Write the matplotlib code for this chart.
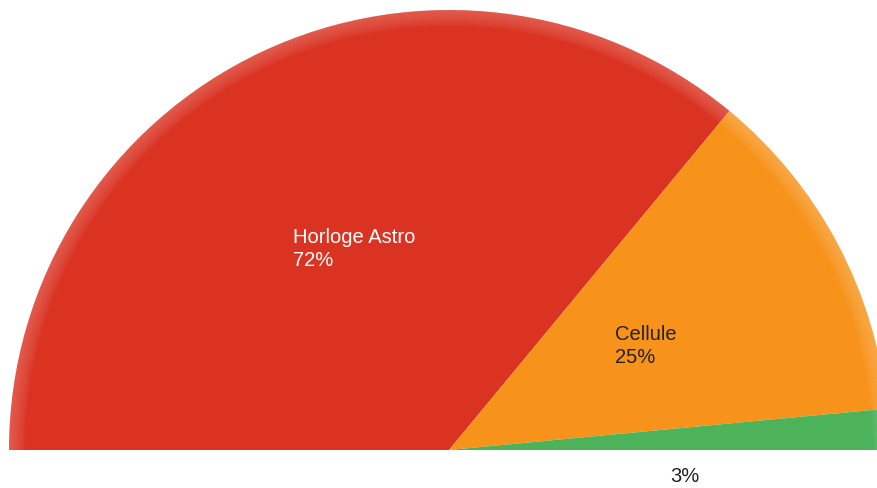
import numpy as np
import matplotlib.pyplot as plt
from matplotlib.patches import Wedge

plt.rcParams['font.family'] = ['Liberation Sans', 'DejaVu Sans']

labels = ["Horloge Astro", "Cellule", ""]
values = [72, 25, 3]
pct_text = ["72%", "25%", "3%"]
colors = ["#DA3322", "#F7931A", "#4DB35B"]
text_colors = ["white", "#222222", "#222222"]

W, H = 877, 488
fig = plt.figure(figsize=(W / 100, H / 100), dpi=100)
ax = fig.add_axes([0, 0, 1, 1])
ax.set_xlim(0, W)
ax.set_ylim(H, 0)
ax.set_aspect('equal')
ax.axis('off')

cx, cy, R = 449, 450, 440

# half pie: values span 180 degrees, going clockwise from the left
total = sum(values)
start = 180.0
wedges = []
for v, c in zip(values, colors):
    sweep = 180.0 * v / total
    # y axis is inverted, so flip angles
    t1, t2 = -start, -(start - sweep)
    ax.add_patch(Wedge((cx, cy), R, t1, t2, facecolor=c, edgecolor='none'))
    # soft light rim, stronger toward the edge
    for k in range(16):
        ax.add_patch(Wedge((cx, cy), R - k, t1, t2, width=1,
                           facecolor='white', alpha=0.2 * (1 - k / 16) ** 0.7,
                           edgecolor='none'))
    wedges.append((start, start - sweep))
    start -= sweep

for i, (a0, a1) in enumerate(wedges):
    mid = np.deg2rad((a0 + a1) / 2)
    if values[i] >= 10:
        x = cx + 0.505 * R * np.cos(mid)
        y = cy - 0.505 * R * np.sin(mid)
        ax.text(x, y, f"{labels[i]}\n{pct_text[i]}", color=text_colors[i],
                fontsize=14.5, ha='center', va='center', multialignment='left',
                linespacing=1.3)
    else:
        x = cx + 0.536 * R * np.cos(mid)
        ax.text(x, 477, pct_text[i], color=text_colors[i], fontsize=14.5,
                ha='center', va='center')

fig.savefig("out.png", dpi=100)
